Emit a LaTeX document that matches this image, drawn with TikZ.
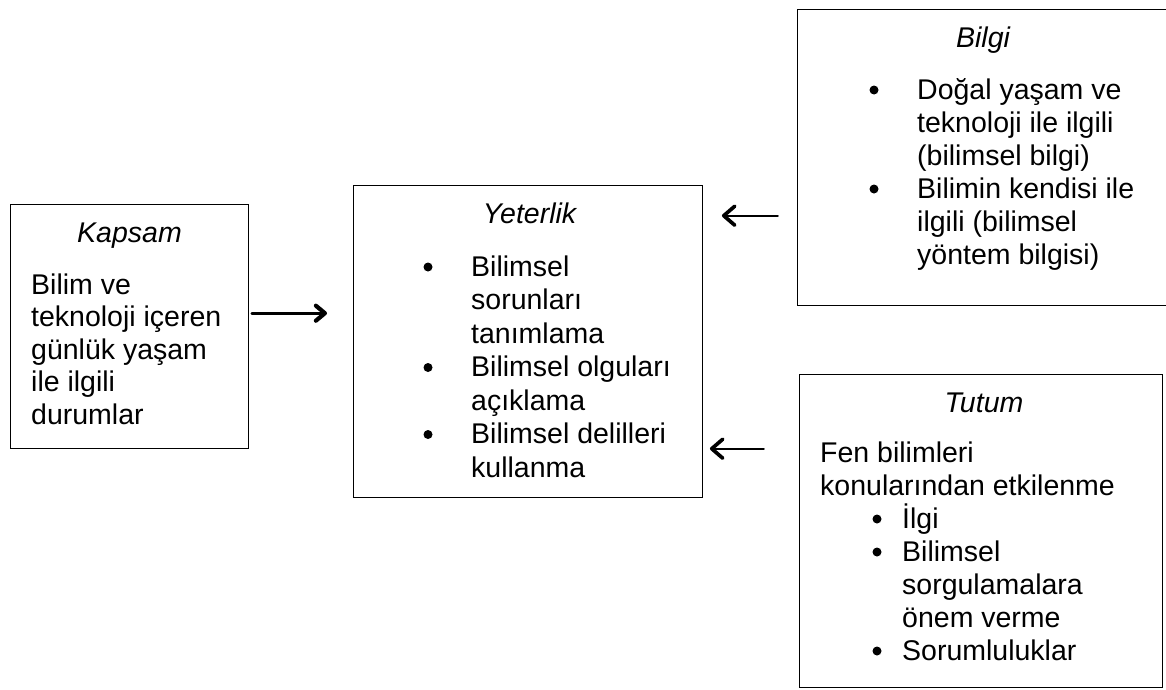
\documentclass[tikz,border=0pt]{standalone}
\usepackage{fontspec}
\setmainfont{Liberation Sans}
\usetikzlibrary{arrows.meta}
% lines stacked from the first baseline downwards
\newcommand{\stackl}[1]{\begin{tabular}[t]{@{}l@{}}#1\end{tabular}}
\begin{document}
\begin{tikzpicture}[x=1pt,y=-1pt,
  box/.style={draw, line width=1.4pt, inner sep=0pt, anchor=north west},
  txt/.style={inner sep=0pt, anchor=base west, font=\fontsize{28.5}{33}\selectfont},
  ttl/.style={inner sep=0pt, anchor=base, font=\fontsize{28.5}{33}\selectfont\itshape},
  % list bullet, placed by its centre (about 9pt above the baseline of its line)
  bul/.style={circle, fill=black, inner sep=0pt, minimum size=9pt, yshift=9pt},
  link/.style={line width=2.3pt, line cap=round,
    -{Straight Barb[length=11pt,width=19pt,line width=0pt 1.6,line cap=round,line join=round]}},
]
\useasboundingbox (0,0) rectangle (1166,689);
\fill[white] (0,0) rectangle (1166,689);
\clip (0,0) rectangle (1166,689);

% frames
\node[box, minimum width=238pt, minimum height=244pt] (kap) at (10,204) {};
\node[box, minimum width=349pt, minimum height=312pt] (yet) at (353,185) {};
\node[box, minimum width=400pt, minimum height=296pt] (bil) at (797,9) {};
\node[box, minimum width=363pt, minimum height=313pt] (tut) at (799,374) {};

% Kapsam
\node[ttl] (kapT) at (129.5,242) {Kapsam};
\node[txt, font=\fontsize{28.5}{32.5}\selectfont] (kapB) at (31,294)
  {\stackl{Bilim ve\\teknoloji içeren\\günlük yaşam\\ile ilgili\\durumlar}};

% Yeterlik
\node[ttl] (yetT) at (529.5,223) {Yeterlik};
\node[bul] (yb1) at (428,276) {};
\node[bul] (yb2) at (428,376.5) {};
\node[bul] (yb3) at (428,443.5) {};
\node[txt, font=\fontsize{28.5}{33.5}\selectfont] (y1) at (471,276) {\stackl{Bilimsel\\sorunları\\tanımlama}};
\node[txt, font=\fontsize{28.5}{33.5}\selectfont] (y2) at (471,376.5) {\stackl{Bilimsel olguları\\açıklama}};
\node[txt, font=\fontsize{28.5}{33.5}\selectfont] (y3) at (471,443.5) {\stackl{Bilimsel delilleri\\kullanma}};

% Bilgi
\node[ttl] (bilT) at (983,47) {Bilgi};
\node[bul] (bb1) at (874,99) {};
\node[bul] (bb2) at (874,198) {};
\node[txt] (b1) at (917,99) {\stackl{Doğal yaşam ve\\teknoloji ile ilgili\\(bilimsel bilgi)}};
\node[txt] (b2) at (917,198) {\stackl{Bilimin kendisi ile\\ilgili (bilimsel\\yöntem bilgisi)}};

% Tutum
\node[ttl] (tutT) at (984,412) {Tutum};
\node[txt] (t0) at (820,462) {\stackl{Fen bilimleri\\konularından etkilenme}};
\node[bul] (tb1) at (877,528) {};
\node[bul] (tb2) at (877,561) {};
\node[bul] (tb3) at (877,660) {};
\node[txt] (t1) at (902,528) {İlgi};
\node[txt] (t2) at (902,561) {\stackl{Bilimsel\\sorgulamalara\\önem verme}};
\node[txt] (t3) at (902,660) {Sorumluluklar};

% connectors
\draw[link, line width=2.8pt, -{Straight Barb[length=9pt,width=15pt,line width=0pt 1.5,line cap=round,line join=round]}]
  ([shift={(2.5,-13.5)}]kap.east) -- ([shift={(-26,-28.5)}]yet.west);
\draw[link] ([shift={(-19.3,58)}]bil.west) -- ([shift={(18.5,-126)}]yet.east);
\draw[link] ([shift={(-35.3,-82.5)}]tut.west) -- ([shift={(6.5,107)}]yet.east);
\end{tikzpicture}
\end{document}
